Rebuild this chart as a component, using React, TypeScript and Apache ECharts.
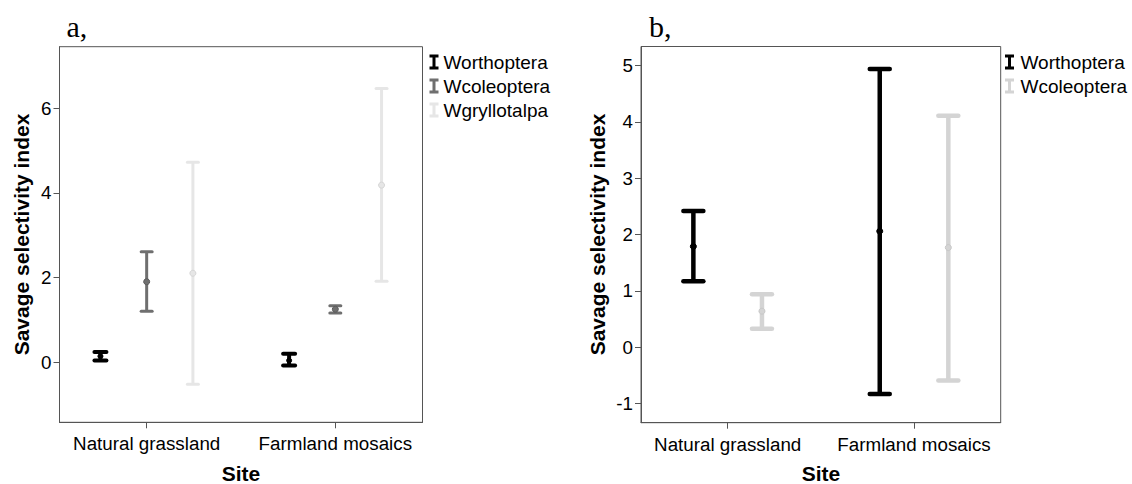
import React, { useEffect, useRef } from "react";
import * as echarts from "echarts";

// ---- data ----
const categories = ["Natural grassland", "Farmland mosaics"];

// panel a
const seriesNamesA = ["Worthoptera", "Wcoleoptera", "Wgryllotalpa"];
const aWorthMean = [0.14, 0.04];
const aWorthLow = [0.04, -0.08];
const aWorthHigh = [0.24, 0.2];
const aWcolMean = [1.9, 1.25];
const aWcolLow = [1.2, 1.16];
const aWcolHigh = [2.61, 1.33];
const aWgryMean = [2.1, 4.18];
const aWgryLow = [-0.52, 1.91];
const aWgryHigh = [4.72, 6.46];
const yTicksA = [0, 2, 4, 6];

// panel b
const seriesNamesB = ["Worthoptera", "Wcoleoptera"];
const bWorthMean = [1.79, 2.06];
const bWorthLow = [1.17, -0.83];
const bWorthHigh = [2.42, 4.94];
const bWcolMean = [0.64, 1.77];
const bWcolLow = [0.33, -0.59];
const bWcolHigh = [0.94, 4.11];
const yTicksB = [-1, 0, 1, 2, 3, 4, 5];

const colorsA = ["#000000", "#6f6f6f", "#e6e6e6"];
const colorsB = ["#000000", "#d4d4d4"];

const FONT = "'Liberation Sans', Arial, sans-serif";
const SERIF = "'Liberation Serif', 'Times New Roman', serif";
const AXIS_COLOR = "#555555";
const ICON = "path://M0,0H12V4H8V16H12V20H0V16H4V4H0Z";

function buildData(mean: number[], low: number[], high: number[], offset: number) {
  return categories.map((_, i) => [i + 1 + offset, mean[i], low[i], high[i]]);
}

function makeRender(capHalf: number, lw: number, r: number, markStroke: string) {
  return (params: any, api: any) => {
    const x = api.value(0);
    const m = api.value(1);
    const lo = api.value(2);
    const hi = api.value(3);
    const pLo = api.coord([x, lo]);
    const pHi = api.coord([x, hi]);
    const pM = api.coord([x, m]);
    const color = api.visual("color");
    const st = { stroke: color, lineWidth: lw, lineCap: "round" };
    return {
      type: "group",
      children: [
        { type: "line", shape: { x1: pLo[0], y1: pLo[1], x2: pHi[0], y2: pHi[1] }, style: { stroke: color, lineWidth: lw } },
        { type: "line", shape: { x1: pHi[0] - capHalf, y1: pHi[1], x2: pHi[0] + capHalf, y2: pHi[1] }, style: st },
        { type: "line", shape: { x1: pLo[0] - capHalf, y1: pLo[1], x2: pLo[0] + capHalf, y2: pLo[1] }, style: st },
        { type: "circle", shape: { cx: pM[0], cy: pM[1], r }, style: { fill: color, stroke: markStroke, lineWidth: 1 } },
      ],
    };
  };
}

function yAxisCfg(gridIndex: number, min: number, max: number, ticks: number[]) {
  return {
    type: "value",
    gridIndex,
    min,
    max,
    splitLine: { show: false },
    axisLine: { show: true, lineStyle: { color: AXIS_COLOR, width: 1 } },
    axisTick: { show: true, length: 6, customValues: ticks, lineStyle: { color: AXIS_COLOR } },
    axisLabel: { customValues: ticks, margin: 8, color: "#000", fontFamily: FONT, fontSize: 18.8 },
  };
}

function xAxisCfg(gridIndex: number, min: number, max: number) {
  const pos = categories.map((_, i) => i + 1);
  return {
    type: "value",
    gridIndex,
    min,
    max,
    splitLine: { show: false },
    axisLine: { show: true, onZero: false, lineStyle: { color: AXIS_COLOR, width: 1 } },
    axisTick: { show: true, length: 6, customValues: pos, lineStyle: { color: AXIS_COLOR } },
    axisLabel: {
      customValues: pos,
      margin: 12,
      color: "#000",
      fontFamily: FONT,
      fontSize: 18.8,
      formatter: (v: number) => categories[Math.round(v) - 1] ?? "",
    },
  };
}

export default function App() {
  const ref = useRef<HTMLDivElement>(null);
  useEffect(() => {
    if (!ref.current) return;
    const chart = echarts.init(ref.current, null, { renderer: "svg" });
    const offsetsA = [-0.245, 0, 0.245];
    const offsetsB = [-0.184, 0.184];
    const legendText = { fontFamily: FONT, fontSize: 19, color: "#000", lineHeight: 19 };
    const option: any = {
      animation: false,
      backgroundColor: "#ffffff",
      grid: [
        { left: 59.5, top: 46.7, width: 363, height: 375.6, show: true, borderColor: AXIS_COLOR, borderWidth: 1, backgroundColor: "transparent" },
        { left: 641, top: 46.5, width: 359.7, height: 376.2, show: true, borderColor: AXIS_COLOR, borderWidth: 1, backgroundColor: "transparent" },
      ],
      xAxis: [xAxisCfg(0, 0.538, 2.462), xAxisCfg(1, 0.535, 2.465)],
      yAxis: [yAxisCfg(0, -1.42, 7.45, yTicksA), yAxisCfg(1, -1.34, 5.34, yTicksB)],
      legend: [
        {
          orient: "vertical",
          left: 429.5,
          top: 52.5,
          padding: 0,
          itemWidth: 9,
          itemHeight: 15,
          itemGap: 5,
          icon: ICON,
          data: seriesNamesA.map((n, i) => ({ name: n, itemStyle: { color: colorsA[i] } })),
          textStyle: legendText,
          selectedMode: false,
        },
        {
          orient: "vertical",
          left: 1005,
          top: 52.5,
          padding: 0,
          itemWidth: 12,
          itemHeight: 15,
          itemGap: 5,
          icon: ICON,
          data: seriesNamesB.map((n, i) => ({ name: n, itemStyle: { color: colorsB[i] } })),
          textStyle: legendText,
          selectedMode: false,
        },
      ],
      series: [
        {
          type: "custom", name: seriesNamesA[0], xAxisIndex: 0, yAxisIndex: 0,
          itemStyle: { color: colorsA[0] },
          renderItem: makeRender(6, 4, 2.5, "#000000"),
          encode: { x: 0, y: [1, 2, 3] },
          data: buildData(aWorthMean, aWorthLow, aWorthHigh, offsetsA[0]),
        },
        {
          type: "custom", name: seriesNamesA[1], xAxisIndex: 0, yAxisIndex: 0,
          itemStyle: { color: colorsA[1] },
          renderItem: makeRender(5.5, 3, 3, "#5a5a5a"),
          encode: { x: 0, y: [1, 2, 3] },
          data: buildData(aWcolMean, aWcolLow, aWcolHigh, offsetsA[1]),
        },
        {
          type: "custom", name: seriesNamesA[2], xAxisIndex: 0, yAxisIndex: 0,
          itemStyle: { color: colorsA[2] },
          renderItem: makeRender(5.5, 3, 3, "#d6d6d6"),
          encode: { x: 0, y: [1, 2, 3] },
          data: buildData(aWgryMean, aWgryLow, aWgryHigh, offsetsA[2]),
        },
        {
          type: "custom", name: seriesNamesB[0], xAxisIndex: 1, yAxisIndex: 1,
          itemStyle: { color: colorsB[0] },
          renderItem: makeRender(10, 4.5, 3, "#000000"),
          encode: { x: 0, y: [1, 2, 3] },
          data: buildData(bWorthMean, bWorthLow, bWorthHigh, offsetsB[0]),
        },
        {
          type: "custom", name: seriesNamesB[1], xAxisIndex: 1, yAxisIndex: 1,
          itemStyle: { color: colorsB[1] },
          renderItem: makeRender(10, 4.5, 3, "#c8c8c8"),
          encode: { x: 0, y: [1, 2, 3] },
          data: buildData(bWcolMean, bWcolLow, bWcolHigh, offsetsB[1]),
        },
      ],
      graphic: [
        { type: "text", left: 66.5, top: 11, style: { text: "a,", font: `30px ${SERIF}`, fill: "#000" } },
        { type: "text", left: 649, top: 11, style: { text: "b,", font: `30px ${SERIF}`, fill: "#000" } },
        { type: "text", x: 21, y: 234.5, rotation: Math.PI / 2, style: { text: "Savage selectivity index", font: `bold 21px ${FONT}`, fill: "#000", align: "center", verticalAlign: "middle" } },
        { type: "text", x: 597, y: 234.5, rotation: Math.PI / 2, style: { text: "Savage selectivity index", font: `bold 21px ${FONT}`, fill: "#000", align: "center", verticalAlign: "middle" } },
        { type: "text", x: 241, y: 473.3, style: { text: "Site", font: `bold 21px ${FONT}`, fill: "#000", align: "center", verticalAlign: "middle" } },
        { type: "text", x: 821, y: 473.3, style: { text: "Site", font: `bold 21px ${FONT}`, fill: "#000", align: "center", verticalAlign: "middle" } },
      ],
    };
    chart.setOption(option);
    return () => chart.dispose();
  }, []);
  return (
    <div
      ref={ref}
      style={{ position: "absolute", left: 0, top: 0, width: 1132, height: 484, background: "#fff" }}
    />
  );
}
